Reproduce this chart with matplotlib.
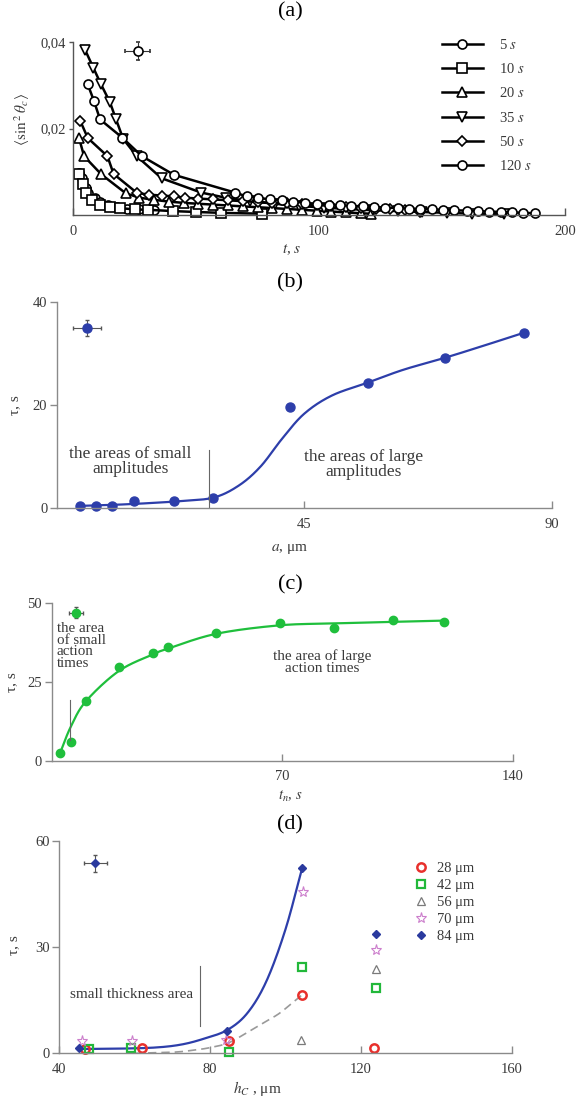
import numpy as np
import matplotlib.pyplot as plt

plt.rcParams['font.family'] = ['Liberation Serif', 'DejaVu Serif']
plt.rcParams['mathtext.fontset'] = 'stix'

# (a) relaxation of <sin^2 theta_c> after different action times
t_5 = [2.4, 3.5, 5.2, 6.2, 8.9, 11, 14.4, 18, 22, 27, 33]
v_5 = [0.0098, 0.0085, 0.0062, 0.0050, 0.0040, 0.0031, 0.0023, 0.0018, 0.0015, 0.0013, 0.0011]
t_10 = [2.4, 4.2, 5.3, 7.6, 11, 15, 19, 25, 30.6, 40.8, 50, 60, 77]
v_10 = [0.0095, 0.0072, 0.0050, 0.0035, 0.0024, 0.0019, 0.0016, 0.0013, 0.0012, 0.0009, 0.0007, 0.0005, 0.0003]
t_20 = [2.4, 4.5, 11.5, 21.5, 27, 33, 39, 45, 51, 57, 63, 69, 75, 81, 87, 93, 99, 105, 111, 117, 121]
v_20 = [0.0179, 0.0136, 0.0094, 0.0050, 0.0040, 0.0035, 0.0031, 0.0028, 0.0026, 0.0024, 0.0022,
        0.0020, 0.0018, 0.0016, 0.0014, 0.0012, 0.0010, 0.0008, 0.0006, 0.0004, 0.0003]
t_35 = [4.9, 8.3, 11.4, 15, 17.5, 20.4, 25.9, 36, 52, 62, 72, 82, 92, 102, 112, 122, 132, 142, 152, 162, 175]
v_35 = [0.0382, 0.0340, 0.0302, 0.0261, 0.0221, 0.0176, 0.0136, 0.0085, 0.0052, 0.0040, 0.0032,
        0.0026, 0.0021, 0.0017, 0.0014, 0.0011, 0.0009, 0.0007, 0.0005, 0.0003, 0.0002]
t_50 = [3, 6, 14, 16.5, 26, 31, 36, 41, 45.5, 51, 57, 63, 69, 75, 81, 87, 93, 99, 105, 111, 117,
        123, 129, 135, 141]
v_50 = [0.0217, 0.0178, 0.0136, 0.0095, 0.0051, 0.0047, 0.0045, 0.0043, 0.0040, 0.0038, 0.0036,
        0.0034, 0.0032, 0.0030, 0.0028, 0.0027, 0.0025, 0.0023, 0.0021, 0.0019, 0.0017, 0.0015,
        0.0013, 0.0011, 0.0008]
t_120 = [6, 8.5, 11, 20, 28, 41, 65.8, 70.6, 75.2, 80, 84.8, 89.4, 94.5, 99, 104, 108.5, 113, 118,
         122.5, 127, 132, 136.5, 141, 146, 150.5, 155, 160, 164.5, 169, 174, 178.5, 183, 188]
v_120 = [0.0302, 0.0264, 0.0221, 0.0179, 0.0136, 0.0093, 0.0052, 0.0043, 0.0040, 0.0036, 0.0034,
         0.0031, 0.0028, 0.0026, 0.0024, 0.0023, 0.0021, 0.0020, 0.0019, 0.0017, 0.0016, 0.0015,
         0.0014, 0.0013, 0.0012, 0.0011, 0.0010, 0.0009, 0.0008, 0.0007, 0.0006, 0.0005, 0.0004]
a_series = [('5', 'o', t_5, v_5), ('10', 's', t_10, v_10), ('20', '^', t_20, v_20),
            ('35', 'v', t_35, v_35), ('50', 'D', t_50, v_50), ('120', 'o', t_120, v_120)]

# (b) relaxation time vs amplitude
amp = [4.1, 7.1, 10.0, 14.0, 21.2, 28.4, 42.4, 56.5, 70.5, 85.0]
tau_amp = [0.3, 0.4, 0.3, 1.4, 1.4, 2.0, 19.5, 24.3, 29.1, 34.0]
amp_fit = [4, 10, 16, 22, 28.4, 33, 37, 41, 45, 50, 56.5, 63, 70.5, 78, 85]
tau_amp_fit = [0.4, 0.6, 0.9, 1.3, 2.0, 4.3, 8.0, 13.5, 18.3, 21.8, 24.3, 26.8, 29.1, 31.6, 34.0]

# (c) relaxation time vs action time
t_act = [2.5, 5.8, 10.4, 20.4, 30.8, 35.3, 49.9, 69.2, 85.6, 103.5, 119.0]
tau_act = [2.5, 6.0, 18.9, 29.7, 34.1, 36.2, 40.6, 43.8, 42.0, 44.7, 44.1]
t_act_fit = [2.5, 5.8, 10.4, 20.4, 30.8, 35.3, 49.9, 69.2, 85.6, 103.5, 119.0]
tau_act_fit = [2.3, 10.8, 18.9, 28.5, 33.8, 35.6, 40.3, 43.0, 43.6, 44.1, 44.5]

# (d) relaxation time vs cell thickness, for several amplitudes
h_28, tau_28 = [46.8, 61.9, 84.9, 104.4, 123.4], [1.2, 1.6, 3.6, 16.5, 1.6]
h_42, tau_42 = [47.9, 59.1, 85.1, 104.4, 124.1], [1.2, 1.4, 0.5, 24.3, 18.5]
h_56, tau_56 = [104.2, 124.1], [3.8, 23.8]
h_70, tau_70 = [46.0, 59.2, 84.1, 104.7, 124.1], [3.6, 3.4, 3.8, 45.6, 29.1]
h_84, tau_84 = [45.2, 84.6, 104.4, 124.1], [1.4, 6.4, 52.2, 33.6]
h_fit84 = [45.2, 55, 65, 72, 78, 84.6, 90, 95, 100, 104.4]
tau_fit84 = [1.2, 1.3, 1.6, 2.4, 4.0, 6.6, 11.5, 20.5, 35.0, 52.2]
h_fit28 = [60, 70, 75, 80, 85, 90, 94, 98, 101, 104.4]
tau_fit28 = [0.0, 0.3, 0.8, 1.6, 3.0, 6.0, 8.5, 11.0, 13.5, 16.5]

BLUE = '#2d3eaa'
GREEN = '#1fbf3c'
TXT = '#3a3a3a'
SPINE = '#8a8a8a'

W, H = 580, 1101


def smooth(xs, ys, per_seg=24):
    # Catmull-Rom spline through the anchor points
    pts = np.column_stack([xs, ys]).astype(float)
    p = np.vstack([2 * pts[0] - pts[1], pts, 2 * pts[-1] - pts[-2]])
    t = np.linspace(0, 1, per_seg, endpoint=False)[:, None]
    out = []
    for i in range(1, len(p) - 2):
        p0, p1, p2, p3 = p[i - 1], p[i], p[i + 1], p[i + 2]
        out.append(0.5 * (2 * p1 + (-p0 + p2) * t + (2 * p0 - 5 * p1 + 4 * p2 - p3) * t ** 2
                          + (-p0 + 3 * p1 - 3 * p2 + p3) * t ** 3))
    out.append(pts[-1:])
    out = np.vstack(out)
    return out[:, 0], out[:, 1]


def px_axes(fig, x0, x1, y_top, y_bot):
    return fig.add_axes([x0 / W, 1 - y_bot / H, (x1 - x0) / W, (y_bot - y_top) / H])


def style_axes(ax, color):
    for s in ('top', 'right'):
        ax.spines[s].set_visible(False)
    for s in ('left', 'bottom'):
        ax.spines[s].set_color(color)
        ax.spines[s].set_linewidth(1.0)
    ax.tick_params(axis='x', direction='in', length=5, width=1.0, color=color,
                   labelsize=10.5, labelcolor=TXT, pad=7)
    ax.tick_params(axis='y', direction='out', length=5, width=1.0, color=color,
                   labelsize=10.5, labelcolor=TXT, pad=2)
    ax.patch.set_alpha(0)


def ftext(fig, x, y, s, **kw):
    kw.setdefault('color', TXT)
    fig.text(x / W, 1 - y / H, s, ha='center', va='center', **kw)


fig = plt.figure(figsize=(5.8, 11.01), dpi=100)

# ---- (a)
ax = px_axes(fig, 73, 565, 42, 215)
style_axes(ax, '#555555')
handles = []
for name, mk, tt, vv in a_series:
    ln, = ax.plot(tt, vv, color='black', lw=1.8, marker=mk, ms=6.5 if mk != 'D' else 5.5,
                  mfc='white', mec='black', mew=1.2, clip_on=False,
                  label=name + ' $s$')
    handles.append(ln)
ax.errorbar([26.3], [0.038], xerr=[5.2], yerr=[0.0021], fmt='o', ms=6.5, mfc='white',
            mec='black', mew=1.2, ecolor='#333333', elinewidth=0.8, capsize=1.5, clip_on=False)
ax.set_xlim(0, 200)
ax.set_ylim(0, 0.04)
ax.set_xticks([0, 100, 200])
ax.set_yticks([0.02, 0.04])
ax.set_yticklabels(['0,02', '0,04'])
ax.set_xticklabels(['0', '100', '200'])
ax.tick_params(axis='y', length=3)
leg = ax.legend(handles=handles, loc='upper left', bbox_to_anchor=(442 / W, 1 - 38 / H),
                bbox_transform=fig.transFigure, frameon=False, fontsize=10.5,
                handlelength=2.8, handletextpad=1.1, labelspacing=0.7, borderaxespad=0,
                borderpad=0)
for tx in leg.get_texts():
    tx.set_color(TXT)
ftext(fig, 290, 12, '(a)', fontsize=16, color='black')
ftext(fig, 292, 250, '$t$, $s$', fontsize=11)
ftext(fig, 22, 120, r'$\langle\mathrm{sin}^{\,2}\,\theta_c\rangle$', fontsize=11, rotation=90)

# ---- (b)
ax = px_axes(fig, 57, 551.7, 301.7, 508)
style_axes(ax, SPINE)
xb, yb = smooth(amp_fit, tau_amp_fit)
ax.plot(xb, yb, color=BLUE, lw=1.6)
ax.plot(amp, tau_amp, 'o', color=BLUE, ms=6.5, clip_on=False)
ax.errorbar([5.5], [34.9], xerr=[2.5], yerr=[1.6], fmt='o', color=BLUE, ms=6.5,
            ecolor='#555555', elinewidth=0.8, capsize=1.5)
ax.plot([27.7, 27.7], [0, 11.3], color='#666666', lw=0.8)
ax.text(13.3, 9.0, 'the areas of small\namplitudes', ha='center', va='center',
        fontsize=12.5, color=TXT, linespacing=0.92)
ax.text(55.7, 8.5, 'the areas of large\namplitudes', ha='center', va='center',
        fontsize=12.5, color=TXT, linespacing=0.92)
ax.set_xlim(0, 90)
ax.set_ylim(0, 40)
ax.set_xticks([45, 90])
ax.set_yticks([0, 20, 40])
ftext(fig, 290, 283, '(b)', fontsize=16, color='black')
ftext(fig, 290, 549, r'$a$, μm', fontsize=11)
ftext(fig, 15, 405, 'τ, s', fontsize=11, rotation=90)

# ---- (c)
ax = px_axes(fig, 51.7, 512.7, 603.3, 760.7)
style_axes(ax, SPINE)
xc, yc = smooth(t_act_fit, tau_act_fit)
ax.plot(xc, yc, color=GREEN, lw=1.6)
ax.plot(t_act, tau_act, 'o', color=GREEN, ms=6, clip_on=False)
ax.errorbar([7.4], [47.0], xerr=[2.2], yerr=[1.8], fmt='o', color=GREEN, ms=6,
            ecolor='#555555', elinewidth=0.8, capsize=1.5, clip_on=False)
ax.plot([5.5, 5.5], [6.6, 19.3], color='#666666', lw=0.8)
ax.text(1.5, 36.4, 'the area\nof small\naction\ntimes', ha='left', va='center',
        fontsize=10.8, color=TXT, linespacing=0.86)
ax.text(82, 31.2, 'the area of large\naction times', ha='center', va='center',
        fontsize=11, color=TXT, linespacing=0.92)
ax.set_xlim(0, 140)
ax.set_ylim(0, 50)
ax.set_xticks([70, 140])
ax.set_yticks([0, 25, 50])
ftext(fig, 290, 585, '(c)', fontsize=16, color='black')
ftext(fig, 290, 796, r'$t_n$, $s$', fontsize=10.5)
ftext(fig, 12, 682, 'τ, s', fontsize=11, rotation=90)

# ---- (d)
ax = px_axes(fig, 59.3, 511.7, 840.7, 1053.3)
style_axes(ax, SPINE)
xd, yd = smooth(h_fit84, tau_fit84)
ax.plot(xd, yd, color=BLUE, lw=1.6)
xg, yg = smooth(h_fit28, tau_fit28)
ax.plot(xg, yg, color='#9a9a9a', lw=1.2, ls=(0, (5, 3)))
ax.plot(h_28, tau_28, 'o', ms=6, mfc='none', mec='#e8302c', mew=1.8, label='28 μm',
        clip_on=False)
ax.plot(h_42, tau_42, 's', ms=5.5, mfc='none', mec='#22b83a', mew=1.6, label='42 μm',
        clip_on=False)
ax.plot(h_56, tau_56, '^', ms=6, mfc='none', mec='#7a7a7a', mew=0.9, label='56 μm')
ax.plot(h_70, tau_70, '*', ms=8, mfc='none', mec='#cc7fcc', mew=0.8, label='70 μm')
ax.plot(h_84, tau_84, 'D', ms=4.5, color='#2a3a9e', label='84 μm', clip_on=False)
ax.errorbar([49.6], [53.6], xerr=[3.0], yerr=[2.5], fmt='D', color='#2a3a9e', ms=4.5,
            ecolor='#555555', elinewidth=0.8, capsize=1.5)
ax.plot([77.3, 77.3], [7.7, 24.5], color='#666666', lw=0.8)
ax.text(59.3, 16.5, 'small thickness area', ha='center', va='center', fontsize=11,
        color=TXT)
leg = ax.legend(loc='upper left', bbox_to_anchor=(414 / W, 1 - 862 / H),
                bbox_transform=fig.transFigure, frameon=False, fontsize=10.5,
                handlelength=1.0, handletextpad=0.6, labelspacing=0.25, borderaxespad=0,
                borderpad=0, numpoints=1)
for tx in leg.get_texts():
    tx.set_color(TXT)
ax.set_xlim(40, 160)
ax.set_ylim(0, 60)
ax.set_xticks([40, 80, 120, 160])
ax.set_yticks([0, 30, 60])
ftext(fig, 290, 825, '(d)', fontsize=16, color='black')
ftext(fig, 257, 1089, r'$h_C$ , μm', fontsize=11)
ftext(fig, 14, 945, 'τ, s', fontsize=11, rotation=90)

fig.savefig('out.png', dpi=100)
